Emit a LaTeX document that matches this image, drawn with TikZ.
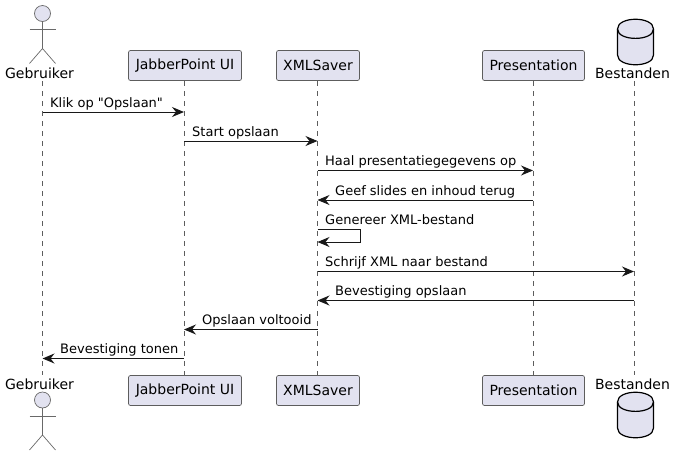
\documentclass[tikz,border=0pt]{standalone}
\usepackage{fontspec}
\setmainfont{DejaVu Sans}
\newfontfamily\plainfont{DejaVu Sans}
\usetikzlibrary{arrows.meta,calc}
\definecolor{pfill}{HTML}{E2E2F0}
\definecolor{pline}{HTML}{181818}
\tikzset{
  x=1pt,y=-1pt,
  partbox/.style={draw=pline!70,line width=0.7pt,fill=pfill,rounded corners=2pt,minimum height=30pt,inner sep=0pt,font=\fontsize{14}{16}\selectfont,text=black,anchor=center},
  lbl/.style={font=\fontsize{14}{16}\selectfont,inner sep=0pt,text=black},
  msglbl/.style={font=\plainfont\fontsize{13}{15}\selectfont,inner sep=0pt,text=black,anchor=base west},
  lifeline/.style={draw=pline!70,line width=0.6pt,dash pattern=on 5pt off 5pt},
  msg/.style={draw=pline,line width=1pt,-{Stealth[length=12pt,width=10pt,inset=4pt]}},
  actorline/.style={draw=pline!65,line width=0.7pt},
  dbshape/.style={draw=black,line width=1.2pt,fill=pfill,line join=round},
}
\newcommand{\actorfig}[2]{%
  \draw[actorline,fill=pfill] (#1,#2) circle[radius=8];
  \draw[actorline] (#1,#2+8) -- (#1,#2+35);
  \draw[actorline] (#1-13,#2+16) -- (#1+13,#2+16);
  \draw[actorline] (#1-13,#2+50) -- (#1,#2+35) -- (#1+13,#2+50);
}
\newcommand{\dbfig}[2]{%
  \draw[dbshape] (#1-18,#2+10) .. controls (#1-18,#2-3) and (#1+18,#2-3) .. (#1+18,#2+10)
     -- (#1+18,#2+36) .. controls (#1+18,#2+49) and (#1-18,#2+49) .. (#1-18,#2+36) -- cycle;
  \draw[dbshape,fill=none] (#1-18,#2+10) .. controls (#1-18,#2+22.5) and (#1+18,#2+22.5) .. (#1+18,#2+10);
}
\begin{document}
\begin{tikzpicture}
\useasboundingbox (0,0) rectangle (675,456);
% lifelines
\coordinate (gt) at (42.5,81);  \coordinate (gb) at (42.5,375);
\coordinate (jt) at (184,81);   \coordinate (jb) at (184,375);
\coordinate (xt) at (317.5,81); \coordinate (xb) at (317.5,375);
\coordinate (pt) at (533,81);   \coordinate (pb) at (533,375);
\coordinate (bt) at (634,81);   \coordinate (bb) at (634,375);
\foreach \n in {g,j,x,p,b}{\draw[lifeline] (\n t) -- (\n b);}
% top participants
\actorfig{42.5}{13.5}
\node[lbl,fill=white,inner ysep=1pt] (gebtop) at (39.5,73) {Gebruiker};
\node[partbox,minimum width=113pt] (jabtop) at (185,65.5) {JabberPoint UI};
\node[partbox,minimum width=83pt] (xmltop) at (318,65.5) {XMLSaver};
\node[partbox,minimum width=102pt] (pretop) at (533.5,65.5) {Presentation};
\dbfig{635.5}{19}
\node[lbl,fill=white,inner ysep=1pt] (bestop) at (632.5,73) {Bestanden};
% bottom participants
\node[lbl,fill=white,inner ysep=1pt] (gebbot) at (39.5,384) {Gebruiker};
\actorfig{42.5}{400}
\node[partbox,minimum width=113pt] (jabbot) at (185,390.5) {JabberPoint UI};
\node[partbox,minimum width=83pt] (xmlbot) at (318,390.5) {XMLSaver};
\node[partbox,minimum width=102pt] (prebot) at (533.5,390.5) {Presentation};
\node[lbl,fill=white,inner ysep=1pt] (besbot) at (632.5,384) {Bestanden};
\dbfig{635.5}{392}
% messages
\draw[msg] (gt |- 0,112) -- (jt |- 0,112);
\node[msglbl] (m1) at (50,107) {Klik op "Opslaan"};
\draw[msg] (jt |- 0,141) -- (xt |- 0,141);
\node[msglbl] (m2) at (192,136) {Start opslaan};
\draw[msg] (xt |- 0,170.5) -- (pt |- 0,170.5);
\node[msglbl] (m3) at (325,165) {Haal presentatiegegevens op};
\draw[msg] (pt |- 0,200) -- (xt |- 0,200);
\node[msglbl] (m4) at (335,195) {Geef slides en inhoud terug};
\draw[msg] (xt |- 0,229) -- ++(42.5,0) -- ++(0,13) -- (xt |- 0,242);
\node[msglbl] (m5) at (325,224) {Genereer XML-bestand};
\draw[msg] (xt |- 0,271.5) -- (bt |- 0,271.5);
\node[msglbl] (m6) at (325,266) {Schrijf XML naar bestand};
\draw[msg] (bt |- 0,300.5) -- (xt |- 0,300.5);
\node[msglbl] (m7) at (335,295) {Bevestiging opslaan};
\draw[msg] (xt |- 0,329.5) -- (jt |- 0,329.5);
\node[msglbl] (m8) at (202,324) {Opslaan voltooid};
\draw[msg] (jt |- 0,358.5) -- (gt |- 0,358.5);
\node[msglbl] (m9) at (60,353) {Bevestiging tonen};
\end{tikzpicture}
\end{document}
